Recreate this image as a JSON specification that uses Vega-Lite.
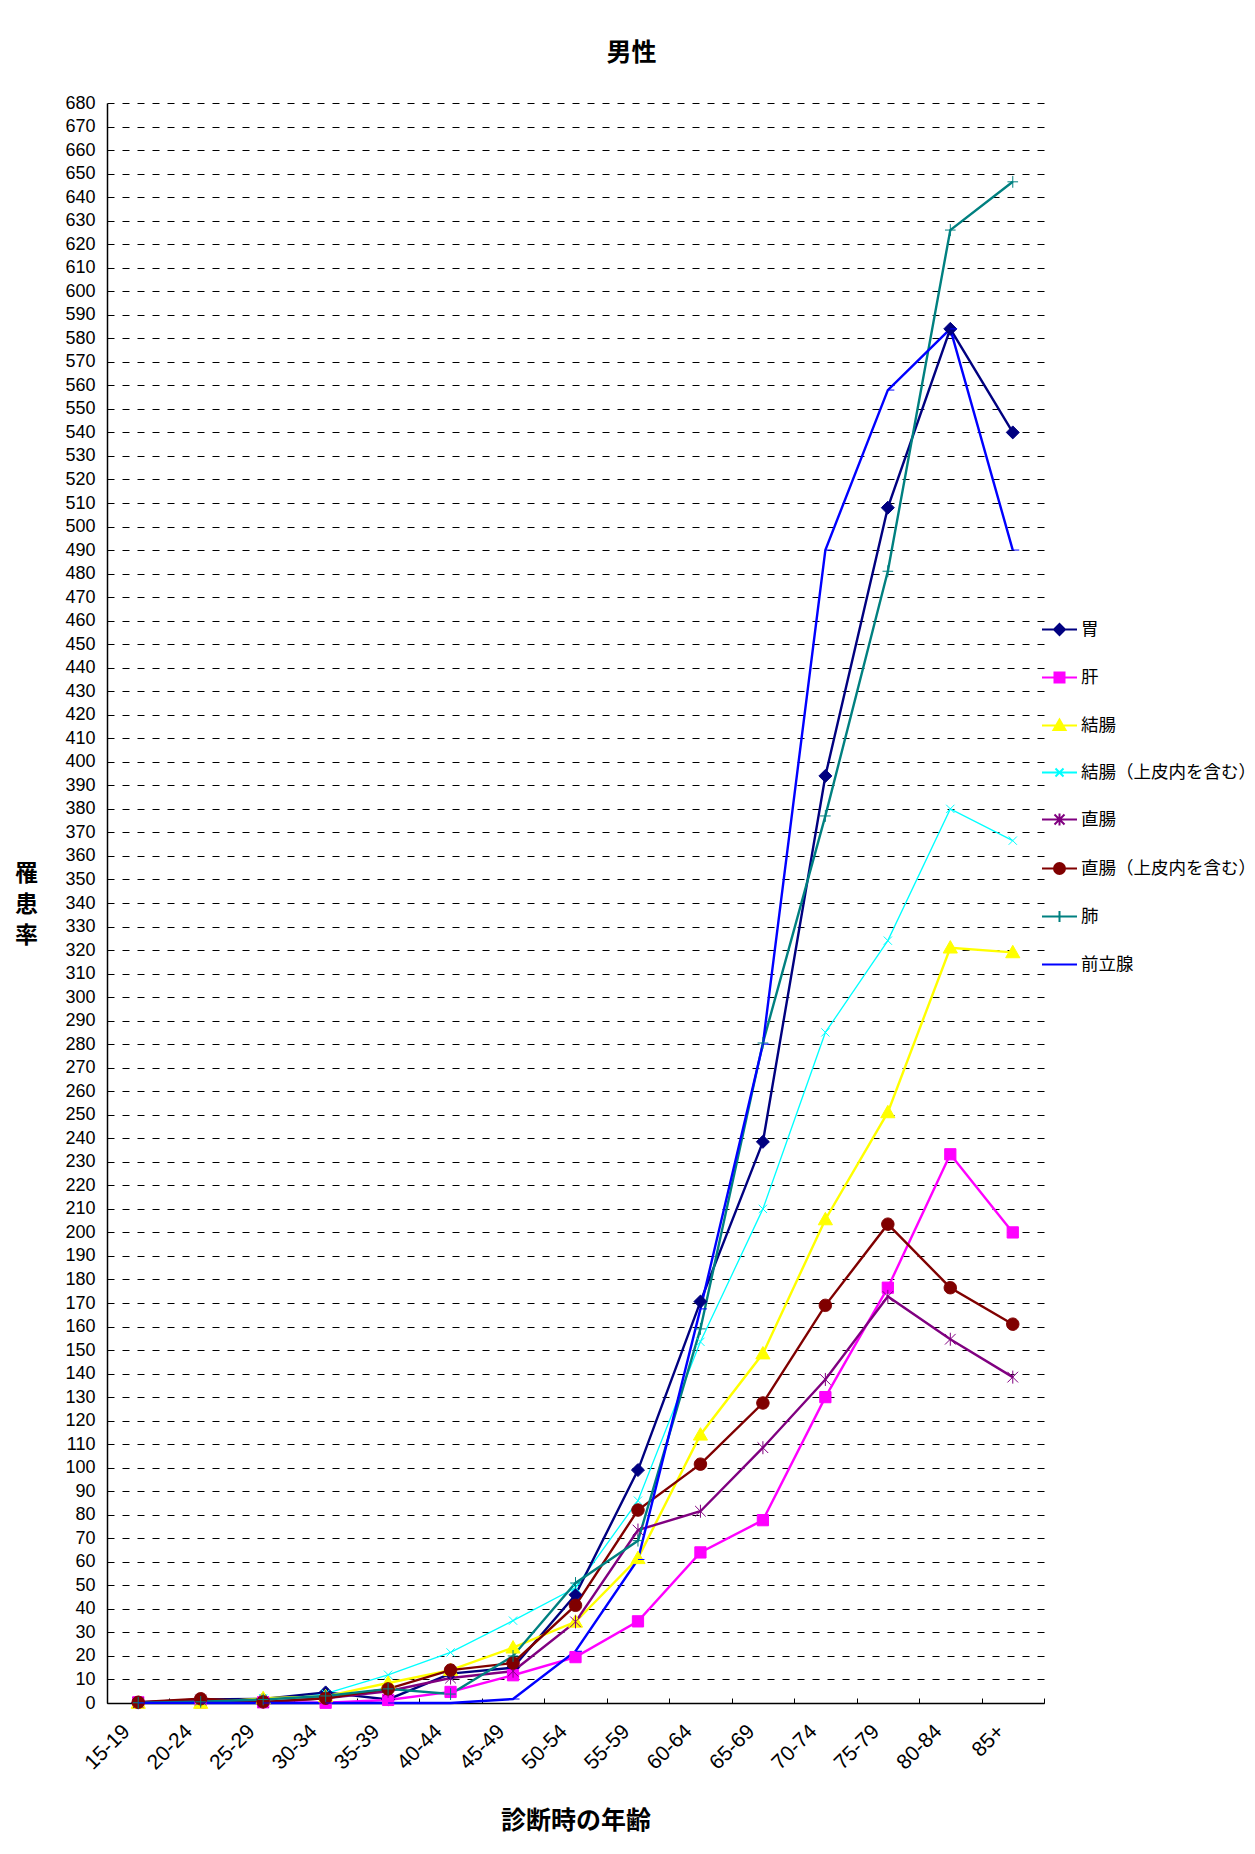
{
  "$schema": "https://vega.github.io/schema/vega-lite/v6.json",
  "autosize": {"type": "none"},
  "padding": {"left": 107, "top": 103, "right": 211, "bottom": 151},
  "width": 937,
  "height": 1600,
  "background": "white",
  "title": {"text": "男性", "font": "Noto Sans CJK JP", "fontSize": 25, "fontWeight": "bold", "color": "#000", "anchor": "middle", "dx": 56, "offset": 3, "baseline": "bottom"},
  "config": {
    "view": {"stroke": null},
    "axis": {"domainColor": "#000", "domainWidth": 1.5, "labelColor": "#000", "titleColor": "#000", "tickColor": "#000"}
  },
  "data": {"values": [
    {"age": "15-19", "site": "胃", "rate": 0.2},
    {"age": "20-24", "site": "胃", "rate": 1.5},
    {"age": "25-29", "site": "胃", "rate": 1.7},
    {"age": "30-34", "site": "胃", "rate": 4.5},
    {"age": "35-39", "site": "胃", "rate": 1.5},
    {"age": "40-44", "site": "胃", "rate": 12.5},
    {"age": "45-49", "site": "胃", "rate": 15},
    {"age": "50-54", "site": "胃", "rate": 46},
    {"age": "55-59", "site": "胃", "rate": 99},
    {"age": "60-64", "site": "胃", "rate": 170.6},
    {"age": "65-69", "site": "胃", "rate": 238.5},
    {"age": "70-74", "site": "胃", "rate": 394},
    {"age": "75-79", "site": "胃", "rate": 508},
    {"age": "80-84", "site": "胃", "rate": 584},
    {"age": "85+", "site": "胃", "rate": 540},
    {"age": "15-19", "site": "肝", "rate": 0.3},
    {"age": "20-24", "site": "肝", "rate": 0.2},
    {"age": "25-29", "site": "肝", "rate": 0.3},
    {"age": "30-34", "site": "肝", "rate": 0.1},
    {"age": "35-39", "site": "肝", "rate": 1.3},
    {"age": "40-44", "site": "肝", "rate": 4.7},
    {"age": "45-49", "site": "肝", "rate": 11.8},
    {"age": "50-54", "site": "肝", "rate": 19.5},
    {"age": "55-59", "site": "肝", "rate": 34.7},
    {"age": "60-64", "site": "肝", "rate": 64},
    {"age": "65-69", "site": "肝", "rate": 77.7},
    {"age": "70-74", "site": "肝", "rate": 130},
    {"age": "75-79", "site": "肝", "rate": 176.5},
    {"age": "80-84", "site": "肝", "rate": 233.2},
    {"age": "85+", "site": "肝", "rate": 200},
    {"age": "15-19", "site": "結腸", "rate": 0},
    {"age": "20-24", "site": "結腸", "rate": 0},
    {"age": "25-29", "site": "結腸", "rate": 2},
    {"age": "30-34", "site": "結腸", "rate": 2.8},
    {"age": "35-39", "site": "結腸", "rate": 8.5},
    {"age": "40-44", "site": "結腸", "rate": 14},
    {"age": "45-49", "site": "結腸", "rate": 23.5},
    {"age": "50-54", "site": "結腸", "rate": 34.5},
    {"age": "55-59", "site": "結腸", "rate": 61.5},
    {"age": "60-64", "site": "結腸", "rate": 114},
    {"age": "65-69", "site": "結腸", "rate": 148.5},
    {"age": "70-74", "site": "結腸", "rate": 205.5},
    {"age": "75-79", "site": "結腸", "rate": 251},
    {"age": "80-84", "site": "結腸", "rate": 321},
    {"age": "85+", "site": "結腸", "rate": 319},
    {"age": "15-19", "site": "結腸（上皮内を含む）", "rate": 0.1},
    {"age": "20-24", "site": "結腸（上皮内を含む）", "rate": 0.8},
    {"age": "25-29", "site": "結腸（上皮内を含む）", "rate": 2},
    {"age": "30-34", "site": "結腸（上皮内を含む）", "rate": 4},
    {"age": "35-39", "site": "結腸（上皮内を含む）", "rate": 12},
    {"age": "40-44", "site": "結腸（上皮内を含む）", "rate": 21.5},
    {"age": "45-49", "site": "結腸（上皮内を含む）", "rate": 35},
    {"age": "50-54", "site": "結腸（上皮内を含む）", "rate": 49},
    {"age": "55-59", "site": "結腸（上皮内を含む）", "rate": 86},
    {"age": "60-64", "site": "結腸（上皮内を含む）", "rate": 153.5},
    {"age": "65-69", "site": "結腸（上皮内を含む）", "rate": 210},
    {"age": "70-74", "site": "結腸（上皮内を含む）", "rate": 285},
    {"age": "75-79", "site": "結腸（上皮内を含む）", "rate": 324},
    {"age": "80-84", "site": "結腸（上皮内を含む）", "rate": 380},
    {"age": "85+", "site": "結腸（上皮内を含む）", "rate": 366.5},
    {"age": "15-19", "site": "直腸", "rate": 0.1},
    {"age": "20-24", "site": "直腸", "rate": 1.3},
    {"age": "25-29", "site": "直腸", "rate": 0.3},
    {"age": "30-34", "site": "直腸", "rate": 2},
    {"age": "35-39", "site": "直腸", "rate": 5},
    {"age": "40-44", "site": "直腸", "rate": 10.6},
    {"age": "45-49", "site": "直腸", "rate": 13.5},
    {"age": "50-54", "site": "直腸", "rate": 34.5},
    {"age": "55-59", "site": "直腸", "rate": 73.5},
    {"age": "60-64", "site": "直腸", "rate": 81.5},
    {"age": "65-69", "site": "直腸", "rate": 108.5},
    {"age": "70-74", "site": "直腸", "rate": 137.5},
    {"age": "75-79", "site": "直腸", "rate": 172.8},
    {"age": "80-84", "site": "直腸", "rate": 154.6},
    {"age": "85+", "site": "直腸", "rate": 138.5},
    {"age": "15-19", "site": "直腸（上皮内を含む）", "rate": 0.3},
    {"age": "20-24", "site": "直腸（上皮内を含む）", "rate": 1.8},
    {"age": "25-29", "site": "直腸（上皮内を含む）", "rate": 0.5},
    {"age": "30-34", "site": "直腸（上皮内を含む）", "rate": 2},
    {"age": "35-39", "site": "直腸（上皮内を含む）", "rate": 6},
    {"age": "40-44", "site": "直腸（上皮内を含む）", "rate": 14},
    {"age": "45-49", "site": "直腸（上皮内を含む）", "rate": 17},
    {"age": "50-54", "site": "直腸（上皮内を含む）", "rate": 41.5},
    {"age": "55-59", "site": "直腸（上皮内を含む）", "rate": 82},
    {"age": "60-64", "site": "直腸（上皮内を含む）", "rate": 101.5},
    {"age": "65-69", "site": "直腸（上皮内を含む）", "rate": 127.5},
    {"age": "70-74", "site": "直腸（上皮内を含む）", "rate": 169},
    {"age": "75-79", "site": "直腸（上皮内を含む）", "rate": 203.5},
    {"age": "80-84", "site": "直腸（上皮内を含む）", "rate": 176.5},
    {"age": "85+", "site": "直腸（上皮内を含む）", "rate": 161},
    {"age": "15-19", "site": "肺", "rate": 0.1},
    {"age": "20-24", "site": "肺", "rate": 0.5},
    {"age": "25-29", "site": "肺", "rate": 1.5},
    {"age": "30-34", "site": "肺", "rate": 3},
    {"age": "35-39", "site": "肺", "rate": 6},
    {"age": "40-44", "site": "肺", "rate": 3.8},
    {"age": "45-49", "site": "肺", "rate": 20},
    {"age": "50-54", "site": "肺", "rate": 51},
    {"age": "55-59", "site": "肺", "rate": 69},
    {"age": "60-64", "site": "肺", "rate": 159},
    {"age": "65-69", "site": "肺", "rate": 280.5},
    {"age": "70-74", "site": "肺", "rate": 377},
    {"age": "75-79", "site": "肺", "rate": 481},
    {"age": "80-84", "site": "肺", "rate": 626},
    {"age": "85+", "site": "肺", "rate": 646.5},
    {"age": "15-19", "site": "前立腺", "rate": 0},
    {"age": "20-24", "site": "前立腺", "rate": 0},
    {"age": "25-29", "site": "前立腺", "rate": 0},
    {"age": "30-34", "site": "前立腺", "rate": 0},
    {"age": "35-39", "site": "前立腺", "rate": 0},
    {"age": "40-44", "site": "前立腺", "rate": 0},
    {"age": "45-49", "site": "前立腺", "rate": 1.7},
    {"age": "50-54", "site": "前立腺", "rate": 22},
    {"age": "55-59", "site": "前立腺", "rate": 61},
    {"age": "60-64", "site": "前立腺", "rate": 167.5},
    {"age": "65-69", "site": "前立腺", "rate": 280},
    {"age": "70-74", "site": "前立腺", "rate": 490},
    {"age": "75-79", "site": "前立腺", "rate": 558},
    {"age": "80-84", "site": "前立腺", "rate": 584},
    {"age": "85+", "site": "前立腺", "rate": 490}
  ]},
  "encoding": {
    "x": {
      "field": "age", "type": "nominal",
      "sort": ["15-19","20-24","25-29","30-34","35-39","40-44","45-49","50-54","55-59","60-64","65-69","70-74","75-79","80-84","85+"],
      "scale": {"type": "band", "paddingInner": 0, "paddingOuter": 0},
      "axis": {
        "title": "診断時の年齢", "titleFont": "Noto Sans CJK JP", "titleFontSize": 25, "titleFontWeight": "bold",
        "titleY": 117, "titleBaseline": "middle",
        "labelAngle": -45, "labelAlign": "right", "labelBaseline": "middle",
        "labelFont": "Liberation Sans, Arial, sans-serif", "labelFontSize": 21,
        "labelPadding": 30, "labelOffset": -12,
        "tickBand": "extent", "tickSize": -5, "ticks": true, "grid": false
      }
    },
    "y": {
      "field": "rate", "type": "quantitative",
      "scale": {"domain": [0, 680], "nice": false},
      "axis": {
        "values": [0,10,20,30,40,50,60,70,80,90,100,110,120,130,140,150,160,170,180,190,200,210,220,230,240,250,260,270,280,290,300,310,320,330,340,350,360,370,380,390,400,410,420,430,440,450,460,470,480,490,500,510,520,530,540,550,560,570,580,590,600,610,620,630,640,650,660,670,680],
        "labelFont": "Liberation Sans Narrow, Liberation Sans, sans-serif", "labelFontSize": 18,
        "labelPadding": 12, "ticks": false,
        "grid": true, "gridColor": "#000", "gridDash": [7, 8], "gridWidth": 1,
        "title": ["罹", "患", "率"], "titleAngle": 0, "titleX": -81, "titleY": 770,
        "titleFont": "Noto Sans CJK JP", "titleFontSize": 23, "titleFontWeight": "bold",
        "titleLineHeight": 31, "titleBaseline": "middle", "titleAlign": "center"
      }
    }
  },
  "layer": [
    {
      "transform": [{"filter": "datum.site === '結腸（上皮内を含む）'"}],
      "mark": {"type": "line", "strokeWidth": 1.3},
      "encoding": {
        "color": {"field": "site", "type": "nominal",
          "scale": {"domain": ["胃","肝","結腸","結腸（上皮内を含む）","直腸","直腸（上皮内を含む）","肺","前立腺"],
                    "range": ["#000080","#FF00FF","#FFFF00","#00FFFF","#800080","#800000","#008080","#0000FF"]}}
      }
    },
    {
      "transform": [{"filter": "datum.site !== '結腸（上皮内を含む）'"}],
      "mark": {"type": "line", "strokeWidth": 2.4},
      "encoding": {
        "color": {"field": "site", "type": "nominal",
          "scale": {"domain": ["胃","肝","結腸","結腸（上皮内を含む）","直腸","直腸（上皮内を含む）","肺","前立腺"],
                    "range": ["#000080","#FF00FF","#FFFF00","#00FFFF","#800080","#800000","#008080","#0000FF"]},
          "legend": {
            "title": null, "orient": "none", "legendX": 934, "legendY": 508,
            "labelFont": "Noto Sans CJK JP", "labelFontSize": 17.5, "labelColor": "#000", "labelOffset": 3, "labelLimit": 300,
            "symbolSize": 1225, "symbolStrokeWidth": 2, "rowPadding": 20,
            "encode": {
              "symbols": {
                "update": {
                  "shape": {"signal": "['M-1,0H1M0,-0.314L0.314,0L0,0.314L-0.314,0Z','M-1,0H1M-0.286,-0.286H0.286V0.286H-0.286Z','M-1,0H1M0,-0.343L0.343,0.257H-0.343Z','M-1,0H1M-0.229,-0.229L0.229,0.229M-0.229,0.229L0.229,-0.229','M-1,0H1M-0.286,-0.286L0.286,0.286M-0.286,0.286L0.286,-0.286M0,-0.343V0.343','M-1,0H1M-0.314,0A0.314,0.314,0,1,1,0.314,0A0.314,0.314,0,1,1,-0.314,0Z','M-1,0H1M0,-0.314V0.314','M-1,0H1'][indexof(['胃','肝','結腸','結腸（上皮内を含む）','直腸','直腸（上皮内を含む）','肺','前立腺'], datum.value)]"},
                  "fill": {"signal": "scale('color', datum.value)"},
                  "stroke": {"signal": "scale('color', datum.value)"},
                  "strokeWidth": {"value": 2},
                  "size": {"value": 1225}
                }
              }
            }
          }
        }
      }
    },
    {
      "mark": {"type": "point", "filled": true, "size": 140, "strokeWidth": 1, "opacity": 1},
      "encoding": {
        "color": {"field": "site", "type": "nominal",
          "scale": {"domain": ["胃","肝","結腸","結腸（上皮内を含む）","直腸","直腸（上皮内を含む）","肺","前立腺"],
                    "range": ["#000080","#FF00FF","#FFFF00","#00FFFF","#800080","#800000","#008080","#0000FF"]}},
        "shape": {"field": "site", "type": "nominal", "legend": null,
          "sort": ["胃","肝","結腸","結腸（上皮内を含む）","直腸","直腸（上皮内を含む）","肺","前立腺"],
          "scale": {"range": ["M0,-1.1L1.1,0L0,1.1L-1.1,0Z","M-0.95,-0.95H0.95V0.95H-0.95Z","M0,-1.2L1.2,0.9H-1.2Z","M-0.7,-0.7L0.7,0.7M-0.7,0.7L0.7,-0.7","M-0.9,-0.9L0.9,0.9M-0.9,0.9L0.9,-0.9M0,-1.1V1.1","M-1.05,0A1.05,1.05,0,1,1,1.05,0A1.05,1.05,0,1,1,-1.05,0Z","M-0.9,0H0.9M0,-1V1","M0,0H1.1"]}},
        "stroke": {"field": "site", "type": "nominal", "legend": null,
          "sort": ["胃","肝","結腸","結腸（上皮内を含む）","直腸","直腸（上皮内を含む）","肺","前立腺"],
          "scale": {"range": ["#000080","#FF00FF","#FFFF00","#00FFFF","#800080","#800000","#008080","#0000FF"]}}
      }
    }
  ]
}
